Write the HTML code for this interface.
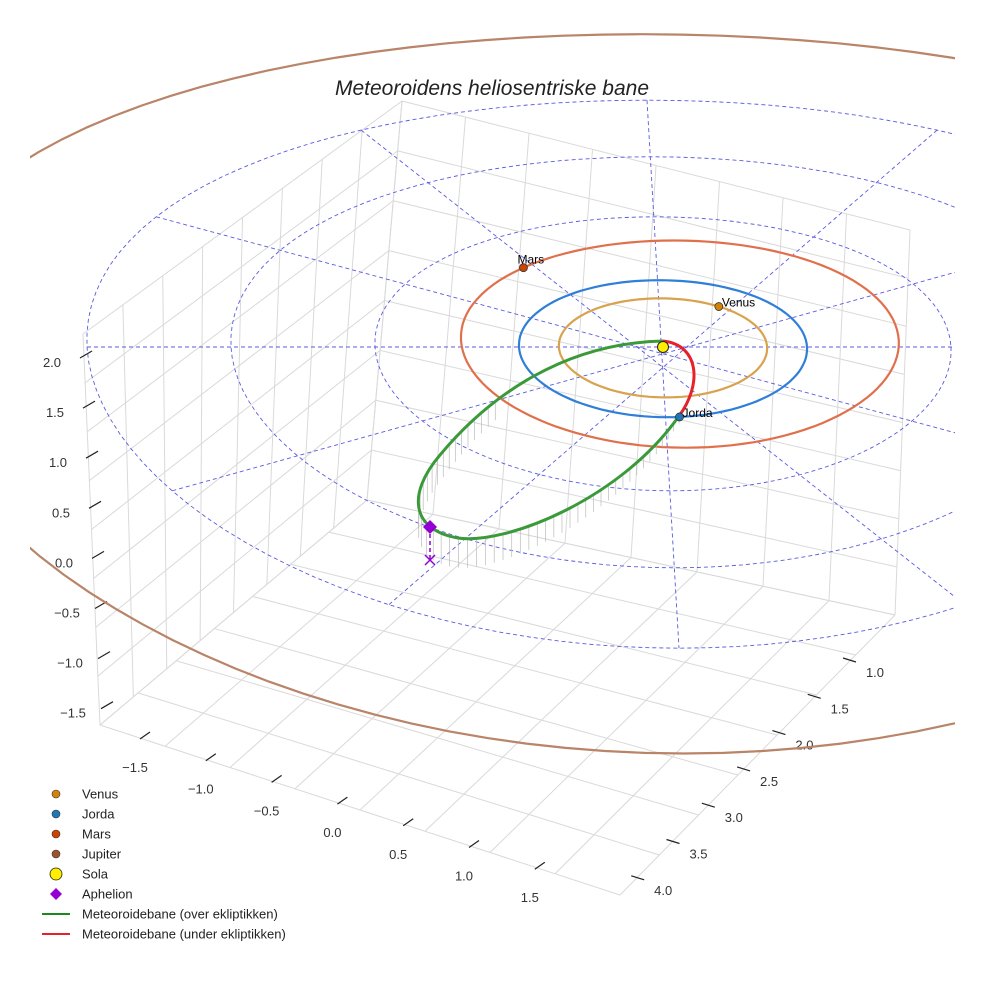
<!DOCTYPE html>
<html><head><meta charset="utf-8"><style>
html,body{margin:0;padding:0;background:#fff;}
svg{display:block;font-family:"Liberation Sans",sans-serif;}
</style></head><body>
<svg id="chart" width="984" height="984" viewBox="0 0 984 984" xmlns="http://www.w3.org/2000/svg">
<defs><clipPath id="clip"><rect x="30" y="28" width="925" height="930"/></clipPath></defs>
<g id="panes"></g>
<g id="ticks"></g>
<g id="plot" clip-path="url(#clip)"></g>
<text x="492" y="95" text-anchor="middle" font-size="21" font-style="italic" fill="#222">Meteoroidens heliosentriske bane</text>
<g id="legend"></g>
</svg>
<script>
// ---- data ----
const ringRadii = [1, 2, 3, 4];
const radialAngles = [0, 30, 60, 90, 120, 150];
const orbitNames = ["Venus", "Jorda", "Mars", "Jupiter"];
const orbitRadii = [0.723, 1.0, 1.52, 5.25];
const orbitOffsetX = [0, 0, 0.12, 0];
const orbitOffsetY = [0, 0, -0.1, 0];
const planetAngles = [-56, 85, -134, null];
const zTicks = ["2.0","1.5","1.0","0.5","0.0","\u22120.5","\u22121.0","\u22121.5"];
const xTicks = ["\u22121.5","\u22121.0","\u22120.5","0.0","0.5","1.0","1.5"];
const yTicks = ["1.0","1.5","2.0","2.5","3.0","3.5","4.0"];
const legendLabels = ["Venus","Jorda","Mars","Jupiter","Sola","Aphelion","Meteoroidebane (over ekliptikken)","Meteoroidebane (under ekliptikken)"];

const NS = "http://www.w3.org/2000/svg";
function mk(tag, attrs, parent){const e=document.createElementNS(NS,tag);for(const k in attrs)e.setAttribute(k,attrs[k]);parent.appendChild(e);return e;}
function E(x,y){const r2=x*x+y*y;const s2=r2>0?y*y/r2:0;return [663+144*x+4*y, 347+68.5*y+1.7*r2*s2];}
function P(R,deg,ox,oy){const t=deg*Math.PI/180;return E((ox||0)+R*Math.cos(t),(oy||0)+R*Math.sin(t));}
function ringPath(R,ox,oy){let d="";for(let a=0;a<=360;a+=3){const p=P(R,a,ox,oy);d+=(a?"L":"M")+p[0].toFixed(1)+","+p[1].toFixed(1);}return d+"Z";}
function lerp(a,b,t){return [a[0]+(b[0]-a[0])*t,a[1]+(b[1]-a[1])*t];}

// ---- panes / grid ----
const panes=document.getElementById("panes");
const Lt=[83,334], Bt=[402,101], Rt=[910,230];
const Lb=[100,725], Bb=[367,500], Rb=[895,615], Fb=[620,895];
function quadGrid(a,b,c,d,nu,nv,name){
  const g=mk("g",{},panes);
  
  
  for(let i=0;i<=nu;i++){const t=i/nu;const p=lerp(a,b,t),q=lerp(d,c,t);
    mk("line",{x1:p[0],y1:p[1],x2:q[0],y2:q[1],stroke:"#d9d9d9","stroke-width":1},g);}
  for(let j=0;j<=nv;j++){const t=j/nv;const p=lerp(a,d,t),q=lerp(b,c,t);
    mk("line",{x1:p[0],y1:p[1],x2:q[0],y2:q[1],stroke:"#d9d9d9","stroke-width":1},g);}
}
quadGrid(Lt,Bt,Bb,Lb,8,8,"left-wall-grid");
quadGrid(Bt,Rt,Rb,Bb,8,8,"back-wall-grid");
quadGrid(Bb,Rb,Fb,Lb,8,7,"floor-grid");

// ---- ticks ----
const tk=document.getElementById("ticks");
zTicks.forEach((s,i)=>{const y=362+i*50.1;const x=52+i*3;
  const t=mk("text",{x:x,y:y+5,"font-size":13,"text-anchor":"middle",fill:"#333"},tk);t.textContent=s;
  
  mk("line",{x1:x+28,y1:y-4,x2:x+40,y2:y-11,stroke:"#222","stroke-width":1.2},tk);});
xTicks.forEach((s,i)=>{const x=135+i*65.8,y=767+i*21.7;
  const t=mk("text",{x:x,y:y+5,"font-size":13,"text-anchor":"middle",fill:"#333"},tk);t.textContent=s;
  
  mk("line",{x1:x+5,y1:y-28,x2:x+15,y2:y-35,stroke:"#222","stroke-width":1.2},tk);});
yTicks.forEach((s,i)=>{const x=875-i*35.3,y=672+i*36.3;
  const t=mk("text",{x:x,y:y+5,"font-size":13,"text-anchor":"middle",fill:"#333"},tk);t.textContent=s;
  
  mk("line",{x1:x-32,y1:y-14,x2:x-19,y2:y-10,stroke:"#222","stroke-width":1.2},tk);});

// ---- plot ----
const plot=document.getElementById("plot");
const Rmax=ringRadii[ringRadii.length-1];
ringRadii.forEach(R=>{const e=mk("path",{d:ringPath(R),fill:"none",stroke:"#5a5ae0","stroke-width":0.9,"stroke-dasharray":"4,3"},plot);
  });
radialAngles.forEach(a=>{const p=P(Rmax,a),q=P(Rmax,a+180);
  const e=mk("line",{x1:q[0],y1:q[1],x2:p[0],y2:p[1],stroke:"#5a5ae0","stroke-width":0.9,"stroke-dasharray":"4,3"},plot);
  });
const orbitColors=["#d9a24e","#2f7fd8","#e0704c","#b98468"];
const planetColors=["#d4820a","#1f77b4","#cc4400","#a0522d"];
orbitRadii.forEach((R,i)=>{const e=mk("path",{d:ringPath(R,orbitOffsetX[i],orbitOffsetY[i]),fill:"none",stroke:orbitColors[i],"stroke-width":2.2},plot);
  });

// meteoroid orbit
const green=mk("path",{d:"M679,416 C620,500 505,545 458,538 C412,530 406,495 440,455 C490,395 565,343 663,341",fill:"none",stroke:"#3a9a3a","stroke-width":3},plot);

const L=green.getTotalLength();
for(let s=0;s<L;s+=9){const p=green.getPointAtLength(s);const d=Math.hypot(p.x-663,p.y-347);const h=d/320*34;
  if(p.y>400||p.x<470){const e=mk("line",{x1:p.x,y1:p.y,x2:p.x,y2:p.y+h,stroke:"#bbb","stroke-width":0.7},plot);
  }}
plot.appendChild(green);
const red=mk("path",{d:"M663,341 C700,345 702,385 679,416",fill:"none",stroke:"#e8202a","stroke-width":3},plot);


planetAngles.forEach((a,i)=>{if(a===null)return;const p=P(orbitRadii[i],a,orbitOffsetX[i],orbitOffsetY[i]);
  const c=mk("circle",{cx:p[0],cy:p[1],r:4,fill:planetColors[i],stroke:"#333","stroke-width":0.8},plot);
  
  const t=mk("text",{x:p[0]+(i==2?-6:3),y:p[1]+(i==2?-4:0),"font-size":12,fill:"#000"},plot);t.textContent=orbitNames[i];
  });
const sun=mk("circle",{cx:663,cy:347,r:5.5,fill:"#ffee00",stroke:"#222","stroke-width":1},plot);

const ap=mk("line",{x1:430,y1:527,x2:430,y2:560,stroke:"#9400d3","stroke-width":1.5,"stroke-dasharray":"4,3"},plot);

const dia=mk("path",{d:"M430,520 L437,527 L430,534 L423,527Z",fill:"#9400d3"},plot);

const xm=mk("path",{d:"M425,555 L435,565 M435,555 L425,565",stroke:"#9400d3","stroke-width":1.5},plot);


// ---- legend ----
const lg=document.getElementById("legend");
legendLabels.forEach((s,i)=>{const y=794+i*20;let m;
  if(i<4){m=mk("circle",{cx:56,cy:y,r:4,fill:planetColors[i],stroke:"#333","stroke-width":0.6},lg);}
  else if(i==4){m=mk("circle",{cx:56,cy:y,r:6,fill:"#ffee00",stroke:"#222","stroke-width":0.8},lg);}
  else if(i==5){m=mk("path",{d:`M56,${y-6} L62,${y} L56,${y+6} L50,${y}Z`,fill:"#9400d3"},lg);}
  else {m=mk("line",{x1:42,y1:y,x2:70,y2:y,stroke:i==6?"#1a8a1a":"#e8202a","stroke-width":2},lg);}
  
  const t=mk("text",{x:82,y:y+4.5,"font-size":13,fill:"#222"},lg);t.textContent=s;
  });
</script>
</body></html>
